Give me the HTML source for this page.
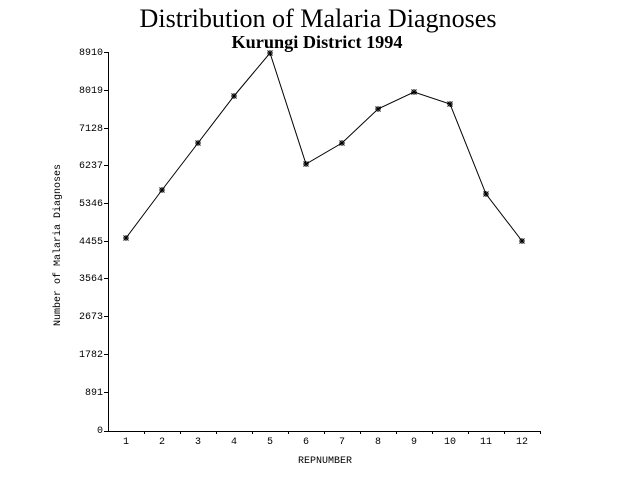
<!DOCTYPE html>
<html><head><style>body{margin:0;background:#fff}</style></head><body>
<svg width="640" height="480" xmlns="http://www.w3.org/2000/svg" font-family="Liberation Mono, monospace">
<defs><path id="s" d="M-3 0h6M0 -3v6M-2.5 -2.5l5 5M-2.5 2.5l5 -5" stroke="#000" stroke-width="1"/></defs>
<rect width="640" height="480" fill="#fff"/>
<text x="318" y="27" text-anchor="middle" font-family="Liberation Serif, serif" font-size="26" textLength="357" lengthAdjust="spacingAndGlyphs">Distribution of Malaria Diagnoses</text>
<text x="317" y="48" text-anchor="middle" font-family="Liberation Serif, serif" font-size="18" font-weight="bold" textLength="171" lengthAdjust="spacingAndGlyphs">Kurungi District 1994</text>
<g stroke="#000" stroke-width="1" fill="none">
<path d="M108.5 52V431.5H540"/>
<path d="M104 52.5h4M104 90.5h4M104 128.5h4M104 165.5h4M104 203.5h4M104 241.5h4M104 278.5h4M104 316.5h4M104 354.5h4M104 392.5h4M104 431.5h4"/>
<path d="M144.5 431v3M180.5 431v3M216.5 431v3M252.5 431v3M288.5 431v3M324.5 431v3M360.5 431v3M396.5 431v3M432.5 431v3M468.5 431v3M504.5 431v3M540.5 431v3"/>
<polyline points="126,238 162,190 198,143 234,96 270,53 306,164 342,143 378,109 414,92 450,104 486,194 522,241"/>
</g>
<use href="#s" x="126" y="238"/><use href="#s" x="162" y="190"/><use href="#s" x="198" y="143"/><use href="#s" x="234" y="96"/><use href="#s" x="270" y="53"/><use href="#s" x="306" y="164"/><use href="#s" x="342" y="143"/><use href="#s" x="378" y="109"/><use href="#s" x="414" y="92"/><use href="#s" x="450" y="104"/><use href="#s" x="486" y="194"/><use href="#s" x="522" y="241"/>
<g font-size="10" text-anchor="end">
<text x="103" y="55">8910</text><text x="103" y="93">8019</text><text x="103" y="131">7128</text><text x="103" y="168">6237</text><text x="103" y="206">5346</text><text x="103" y="244">4455</text><text x="103" y="281">3564</text><text x="103" y="319">2673</text><text x="103" y="357">1782</text><text x="103" y="395">891</text><text x="103" y="433">0</text>
</g>
<g font-size="10" text-anchor="middle">
<text x="126" y="444">1</text><text x="162" y="444">2</text><text x="198" y="444">3</text><text x="234" y="444">4</text><text x="270" y="444">5</text><text x="306" y="444">6</text><text x="342" y="444">7</text><text x="378" y="444">8</text><text x="414" y="444">9</text><text x="450" y="444">10</text><text x="486" y="444">11</text><text x="522" y="444">12</text>
<text x="325" y="463">REPNUMBER</text>
<text transform="translate(60,245) rotate(-90)">Number of Malaria Diagnoses</text>
</g>
</svg>
</body></html>
